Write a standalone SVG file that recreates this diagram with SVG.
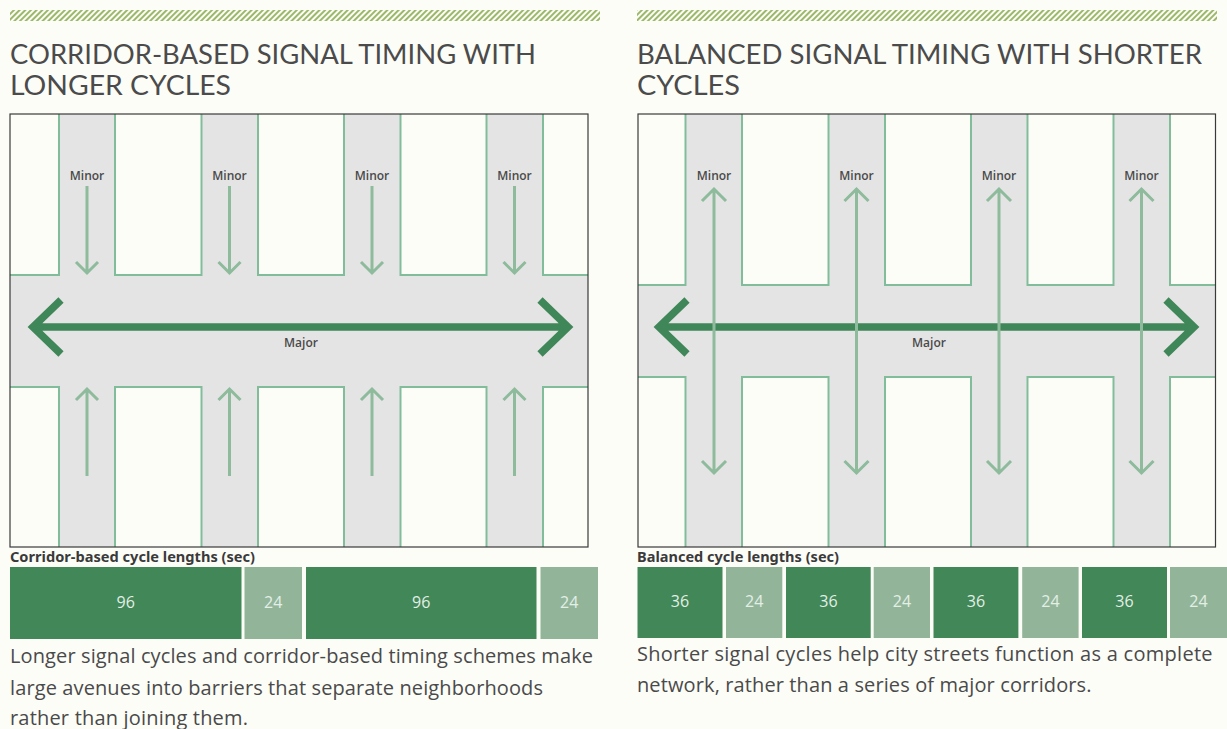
<svg xmlns="http://www.w3.org/2000/svg" width="1227" height="729" viewBox="0 0 1227 729">
<style>
.title{font-family:"Lato","Liberation Sans",sans-serif;font-size:27px;fill:#4b4b4b}
.street{fill:#e4e4e4}
.blk{fill:#fdfdf8;stroke:#82bd9b;stroke-width:2}
.frame{fill:none;stroke:#3a3a3a;stroke-width:1.2}
.lbl{font-family:"Open Sans","Liberation Sans",sans-serif;font-size:12px;font-weight:600;fill:#4a4a4a;text-anchor:middle}
.major{fill:none;stroke:#3f8758;stroke-width:7.5;stroke-linejoin:miter;stroke-linecap:butt}
.minor{fill:none;stroke:#8dbb9b;stroke-width:3;stroke-linejoin:miter}
.cap{font-family:"Noto Sans","Open Sans",sans-serif;font-size:13.5px;font-weight:bold;fill:#3a3a3a}
.dk{fill:#418758}
.lt{fill:#92b59a}
.num{font-family:"Open Sans","Noto Sans",sans-serif;font-size:16px;fill:#e3efe6;text-anchor:middle}
.body{font-family:"Open Sans","Noto Sans",sans-serif;font-size:20px;fill:#4a4a4a}
</style>
<defs>
<pattern id="hatch" width="4" height="4" patternUnits="userSpaceOnUse" patternTransform="rotate(45)">
<rect x="0" y="0" width="2" height="4" fill="#9cb86a"/>
</pattern>
<clipPath id="clipL"><rect x="10" y="114" width="578" height="433"/></clipPath>
<clipPath id="clipR"><rect x="638" y="114" width="577.5" height="433"/></clipPath>
</defs>
<rect width="1227" height="729" fill="#fdfdf8"/>

<g id="header-left">
<rect x="10" y="10" width="590" height="11" fill="url(#hatch)"/>
<text class="title" x="10" y="64" textLength="526" lengthAdjust="spacingAndGlyphs">CORRIDOR-BASED SIGNAL TIMING WITH</text>
<text class="title" x="10" y="95" textLength="221" lengthAdjust="spacingAndGlyphs">LONGER CYCLES</text>
</g>
<g id="header-right">
<rect x="637" y="10" width="580" height="11" fill="url(#hatch)"/>
<text class="title" x="637" y="64" textLength="565" lengthAdjust="spacingAndGlyphs">BALANCED SIGNAL TIMING WITH SHORTER</text>
<text class="title" x="637" y="95" textLength="103" lengthAdjust="spacingAndGlyphs">CYCLES</text>
</g>

<g id="map-left" clip-path="url(#clipL)">
<rect class="street" x="10" y="114" width="578" height="433"/>
<rect class="blk" x="0" y="100" width="59" height="175"/>
<rect class="blk" x="115" y="100" width="86.5" height="175"/>
<rect class="blk" x="258" y="100" width="86" height="175"/>
<rect class="blk" x="400.5" y="100" width="86" height="175"/>
<rect class="blk" x="543" y="100" width="60" height="175"/>
<rect class="blk" x="0" y="387" width="59" height="175"/>
<rect class="blk" x="115" y="387" width="86.5" height="175"/>
<rect class="blk" x="258" y="387" width="86" height="175"/>
<rect class="blk" x="400.5" y="387" width="86" height="175"/>
<rect class="blk" x="543" y="387" width="60" height="175"/>
</g>
<g id="map-right" clip-path="url(#clipR)">
<rect class="street" x="638" y="114" width="577.5" height="433"/>
<rect class="blk" x="620" y="100" width="65.5" height="185"/>
<rect class="blk" x="742" y="100" width="86.5" height="185"/>
<rect class="blk" x="885" y="100" width="86" height="185"/>
<rect class="blk" x="1027.5" y="100" width="86" height="185"/>
<rect class="blk" x="1170" y="100" width="60" height="185"/>
<rect class="blk" x="620" y="377" width="65.5" height="185"/>
<rect class="blk" x="742" y="377" width="86.5" height="185"/>
<rect class="blk" x="885" y="377" width="86" height="185"/>
<rect class="blk" x="1027.5" y="377" width="86" height="185"/>
<rect class="blk" x="1170" y="377" width="60" height="185"/>
</g>

<g id="connectors">
<path class="major" d="M33 327 H568 M61 300 L33 327 L61 354 M540 300 L568 327 L540 354"/>
<path class="minor" d="M87 186 V272 M76 262 L87 273 L98 262 M87 476 V390 M76 400 L87 389 L98 400"/>
<path class="minor" d="M229.5 186 V272 M218.5 262 L229.5 273 L240.5 262 M229.5 476 V390 M218.5 400 L229.5 389 L240.5 400"/>
<path class="minor" d="M372 186 V272 M361 262 L372 273 L383 262 M372 476 V390 M361 400 L372 389 L383 400"/>
<path class="minor" d="M514.5 186 V272 M503.5 262 L514.5 273 L525.5 262 M514.5 476 V390 M503.5 400 L514.5 389 L525.5 400"/>
<path class="major" d="M659 327 H1194 M687 300 L659 327 L687 354 M1166 300 L1194 327 L1166 354"/>
<path class="minor" d="M714 189 V472 M702 201 L714 189 L726 201 M702 461 L714 473 L726 461"/>
<path class="minor" d="M856.5 189 V472 M844.5 201 L856.5 189 L868.5 201 M844.5 461 L856.5 473 L868.5 461"/>
<path class="minor" d="M999 189 V472 M987 201 L999 189 L1011 201 M987 461 L999 473 L1011 461"/>
<path class="minor" d="M1141.5 189 V472 M1129.5 201 L1141.5 189 L1153.5 201 M1129.5 461 L1141.5 473 L1153.5 461"/>
</g>

<g id="labels-left">
<text class="lbl" x="87" y="179.5">Minor</text>
<text class="lbl" x="229.5" y="179.5">Minor</text>
<text class="lbl" x="372" y="179.5">Minor</text>
<text class="lbl" x="514.5" y="179.5">Minor</text>
<text class="lbl" x="301" y="347">Major</text>
</g>
<g id="labels-right">
<text class="lbl" x="714" y="179.5">Minor</text>
<text class="lbl" x="856.5" y="179.5">Minor</text>
<text class="lbl" x="999" y="179.5">Minor</text>
<text class="lbl" x="1141.5" y="179.5">Minor</text>
<text class="lbl" x="929" y="347">Major</text>
</g>
<rect class="frame" x="10" y="114" width="578" height="433"/>
<rect class="frame" x="638" y="114" width="577.5" height="433"/>

<g id="bars-left">
<text class="cap" x="10" y="562" textLength="245" lengthAdjust="spacingAndGlyphs">Corridor-based cycle lengths (sec)</text>
<rect class="dk" x="10" y="567" width="231.5" height="72"/>
<rect class="lt" x="244.5" y="567" width="57.5" height="72"/>
<rect class="dk" x="306" y="567" width="230.5" height="72"/>
<rect class="lt" x="540.5" y="567" width="57.5" height="72"/>
<text class="num" x="125.7" y="608">96</text>
<text class="num" x="273.2" y="608">24</text>
<text class="num" x="421.2" y="608">96</text>
<text class="num" x="569.2" y="608">24</text>
</g>
<g id="bars-right">
<text class="cap" x="637" y="561.5" textLength="202" lengthAdjust="spacingAndGlyphs">Balanced cycle lengths (sec)</text>
<rect class="dk" x="637.5" y="567" width="85" height="71"/>
<rect class="lt" x="726" y="567" width="56.3" height="71"/>
<rect class="dk" x="786" y="567" width="84.7" height="71"/>
<rect class="lt" x="873.7" y="567" width="56.3" height="71"/>
<rect class="dk" x="933.5" y="567" width="84.9" height="71"/>
<rect class="lt" x="1022.2" y="567" width="56.4" height="71"/>
<rect class="dk" x="1082" y="567" width="85" height="71"/>
<rect class="lt" x="1170" y="567" width="57" height="71"/>
<text class="num" x="680" y="607">36</text>
<text class="num" x="754.2" y="607">24</text>
<text class="num" x="828.4" y="607">36</text>
<text class="num" x="901.9" y="607">24</text>
<text class="num" x="976" y="607">36</text>
<text class="num" x="1050.4" y="607">24</text>
<text class="num" x="1124.5" y="607">36</text>
<text class="num" x="1198.5" y="607">24</text>
</g>

<g id="text-left">
<text class="body" x="10" y="663" textLength="583">Longer signal cycles and corridor-based timing schemes make</text>
<text class="body" x="10" y="694.5" textLength="533">large avenues into barriers that separate neighborhoods</text>
<text class="body" x="10" y="725" textLength="238">rather than joining them.</text>
</g>
<g id="text-right">
<text class="body" x="637" y="661" textLength="575.6">Shorter signal cycles help city streets function as a complete</text>
<text class="body" x="637" y="692" textLength="454.5">network, rather than a series of major corridors.</text>
</g>
</svg>
